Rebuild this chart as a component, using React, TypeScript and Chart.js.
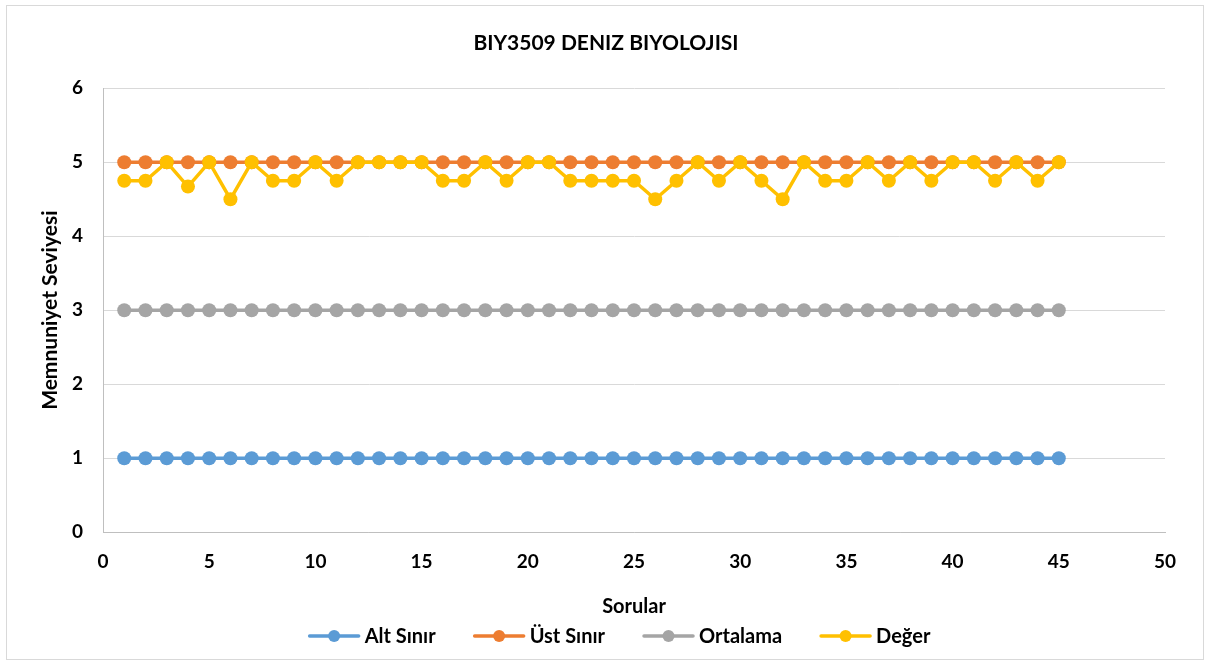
import React, { useEffect, useRef } from "react";
import { Chart, registerables } from "chart.js";

Chart.register(...registerables);

const sorular = [
  1, 2, 3, 4, 5, 6, 7, 8, 9, 10, 11, 12, 13, 14, 15, 16, 17, 18, 19, 20, 21, 22, 23,
  24, 25, 26, 27, 28, 29, 30, 31, 32, 33, 34, 35, 36, 37, 38, 39, 40, 41, 42, 43, 44, 45,
];
const altSinir = [
  1, 1, 1, 1, 1, 1, 1, 1, 1, 1, 1, 1, 1, 1, 1, 1, 1, 1, 1, 1, 1, 1, 1,
  1, 1, 1, 1, 1, 1, 1, 1, 1, 1, 1, 1, 1, 1, 1, 1, 1, 1, 1, 1, 1, 1,
];
const ustSinir = [
  5, 5, 5, 5, 5, 5, 5, 5, 5, 5, 5, 5, 5, 5, 5, 5, 5, 5, 5, 5, 5, 5, 5,
  5, 5, 5, 5, 5, 5, 5, 5, 5, 5, 5, 5, 5, 5, 5, 5, 5, 5, 5, 5, 5, 5,
];
const ortalama = [
  3, 3, 3, 3, 3, 3, 3, 3, 3, 3, 3, 3, 3, 3, 3, 3, 3, 3, 3, 3, 3, 3, 3,
  3, 3, 3, 3, 3, 3, 3, 3, 3, 3, 3, 3, 3, 3, 3, 3, 3, 3, 3, 3, 3, 3,
];
const deger = [
  4.75, 4.75, 5, 4.67, 5, 4.5, 5, 4.75, 4.75, 5, 4.75, 5, 5, 5, 5, 4.75, 4.75, 5, 4.75, 5,
  5, 4.75, 4.75, 4.75, 4.75, 4.5, 4.75, 5, 4.75, 5, 4.75, 4.5, 5, 4.75, 4.75, 5, 4.75, 5,
  4.75, 5, 5, 4.75, 5, 4.75, 5,
];
const seriesNames = ["Alt Sınır", "Üst Sınır", "Ortalama", "Değer"];
const seriesColors = ["#5B9BD5", "#ED7D31", "#A5A5A5", "#FFC000"];
const chartTitle = "BIY3509 DENIZ BIYOLOJISI";
const xTitle = "Sorular";
const yTitle = "Memnuniyet Seviyesi";

const FONT = "Lato, 'Liberation Sans', sans-serif";

const customLegend = {
  id: "customLegend",
  afterDraw(chart: any) {
    const ctx = chart.ctx as CanvasRenderingContext2D;
    const font = `bold 20px ${FONT}`;
    ctx.save();
    ctx.font = font;
    const iconW = 53;
    const gapText = 4;
    const gapItem = 37;
    const labels: string[] = chart.data.datasets.map((d: any) => d.label);
    const widths = labels.map((t) => ctx.measureText(t).width);
    const total =
      widths.reduce((a, w) => a + iconW + gapText + w, 0) + gapItem * (labels.length - 1);
    const cx = 612;
    const cy = 630;
    let x = cx - total / 2;
    labels.forEach((t, i) => {
      const color = chart.data.datasets[i].borderColor;
      ctx.strokeStyle = color;
      ctx.lineWidth = 3.5;
      ctx.lineCap = "round";
      ctx.beginPath();
      ctx.moveTo(x + 2, cy);
      ctx.lineTo(x + iconW - 2, cy);
      ctx.stroke();
      ctx.fillStyle = color;
      ctx.beginPath();
      ctx.arc(x + iconW / 2, cy, 6, 0, Math.PI * 2);
      ctx.fill();
      ctx.fillStyle = "#000";
      ctx.textBaseline = "middle";
      ctx.textAlign = "left";
      ctx.fillText(t, x + iconW + gapText, cy + 1);
      x += iconW + gapText + widths[i] + gapItem;
    });
    ctx.restore();
  },
};

export default function App() {
  const ref = useRef<HTMLCanvasElement | null>(null);
  useEffect(() => {
    document.body.style.margin = "0";
    const seriesValues = [altSinir, ustSinir, ortalama, deger];
    const chart = new Chart(ref.current!, {
      type: "line",
      data: {
        datasets: seriesNames.map((name, i) => ({
          label: name,
          data: sorular.map((x, j) => ({ x, y: seriesValues[i][j] })),
          borderColor: seriesColors[i],
          backgroundColor: seriesColors[i],
          pointBackgroundColor: seriesColors[i],
          pointBorderColor: seriesColors[i],
          borderWidth: 3.5,
          pointRadius: 7,
          pointHoverRadius: 7,
          pointBorderWidth: 0,
          order: 3 - i,
          tension: 0,
        })),
      },
      options: {
        animation: false,
        responsive: false,
        maintainAspectRatio: false,
        layout: { padding: { left: 40, right: 38, top: 0, bottom: 40 } },
        plugins: {
          title: {
            display: true,
            text: chartTitle,
            color: "#000",
            font: { family: FONT, size: 21, weight: "bold" },
            padding: { top: 25, bottom: 32 },
          },
          legend: { display: false },
          tooltip: { enabled: false },
        },
        scales: {
          x: {
            type: "linear",
            min: 0,
            max: 50,
            ticks: {
              stepSize: 5,
              color: "#000",
              font: { family: FONT, size: 19, weight: "bold" },
              padding: 18,
            },
            grid: { display: false, drawTicks: false },
            border: { display: true, color: "#BFBFBF", width: 1 },
            title: {
              display: true,
              text: xTitle,
              color: "#000",
              font: { family: FONT, size: 20, weight: "bold" },
              padding: { top: 4, bottom: 0 },
            },
          },
          y: {
            min: 0,
            max: 6,
            afterFit: (scale: any) => {
              scale.width = 56;
            },
            ticks: {
              stepSize: 1,
              color: "#000",
              font: { family: FONT, size: 19, weight: "bold" },
              padding: 20,
            },
            grid: { color: "#D9D9D9", lineWidth: 1, drawTicks: false },
            border: { display: true, color: "#BFBFBF", width: 1 },
            title: {
              display: true,
              text: yTitle,
              color: "#000",
              font: { family: FONT, size: 21, weight: "bold" },
              padding: { top: -9, bottom: 0 },
            },
          },
        },
      },
      plugins: [customLegend],
    });
    return () => chart.destroy();
  }, []);
  return (
    <div
      style={{
        position: "absolute",
        left: 6,
        top: 5,
        width: 1196,
        height: 653,
        border: "1px solid #D9D9D9",
        background: "#fff",
      }}
    >
      <canvas ref={ref} width={1196} height={653} style={{ display: "block" }} />
    </div>
  );
}
